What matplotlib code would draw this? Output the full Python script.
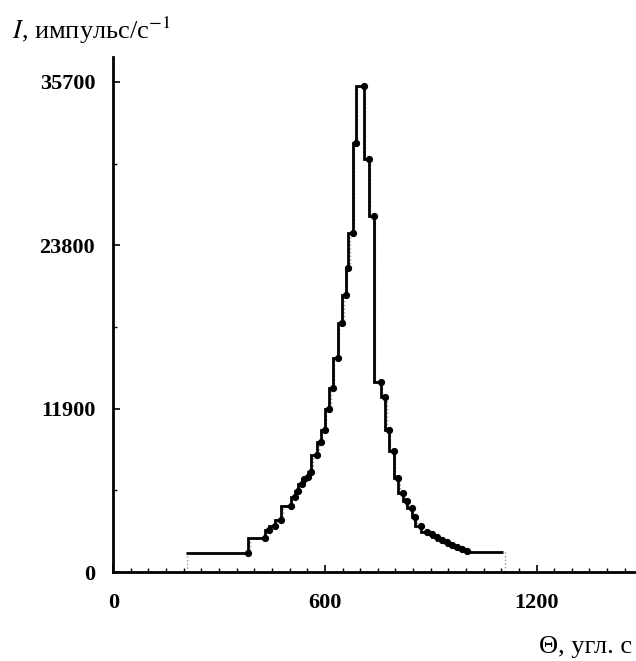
import matplotlib
matplotlib.use("Agg")
import matplotlib.pyplot as plt
import numpy as np

# step edges (angle, arcsec) and intensity levels
theta_edges = [205, 383, 429, 443, 460, 477, 503, 514, 523, 534, 542, 551,
               562, 577, 588, 599, 611, 622, 636, 648, 659, 667, 679, 687,
               710, 724, 738, 758, 770, 781, 795, 807, 821, 832, 846, 855,
               872, 889, 903, 917, 932, 946, 960, 974, 988, 1003, 1105]
intensity = [1400, 2480, 3060, 3350, 3790, 4800, 5460, 5900, 6400, 6770,
             6920, 7280, 8520, 9460, 10340, 11870, 13400, 15580, 18130,
             20170, 22130, 24680, 31230, 35400, 30070, 25920, 13830, 12740,
             10340, 8810, 6840, 5750, 5170, 4660, 4000, 3350, 2910, 2770,
             2550, 2330, 2180, 1970, 1820, 1670, 1530, 1460]

y_ticks = [0, 11900, 23800, 35700]
x_ticks = [0, 600, 1200]

plt.rcParams['mathtext.fontset'] = 'stix'
serif = ['Liberation Serif', 'DejaVu Serif']

fig = plt.figure(figsize=(6.36, 6.61), dpi=100)
ax = fig.add_axes([0.178, 0.1346, 0.822, 0.779])

edges = np.array(theta_edges, dtype=float)
vals = np.array(intensity, dtype=float)

# faint dotted trace beside the main line (print artefact)
ax.stairs(vals, edges + 5, baseline=0, color='0.6', linestyle=':',
          linewidth=1.0, zorder=1)
ax.stairs(vals, edges, baseline=None, color='black', linewidth=2.0, zorder=2)
ax.plot(edges[1:-1], vals[:-1], 'o', color='black', markersize=4.2, zorder=3)

ax.set_xlim(0, 1482)
ax.set_ylim(0, 37500)

for s in ['top', 'right']:
    ax.spines[s].set_visible(False)
for s in ['left', 'bottom']:
    ax.spines[s].set_linewidth(2.0)

ax.set_xticks(x_ticks)
ax.set_yticks(y_ticks)
ax.set_xticks(np.arange(0, 1482, 50), minor=True)
ax.set_yticks(np.arange(0, 37500, 5950), minor=True)
ax.tick_params(which='major', direction='in', length=5, width=1.2,
               labelsize=16, pad=13)
ax.tick_params(axis='x', which='major', pad=15)
ax.tick_params(which='minor', direction='in', length=3, width=1.0)
for lab in ax.get_xticklabels() + ax.get_yticklabels():
    lab.set_fontfamily(serif)
    lab.set_fontweight('bold')

fig.text(12 / 636, 1 - 30 / 661, r"$I$, импульс/с$^{-1}$", family=serif,
         fontsize=19, ha='left', va='center')
fig.text(632 / 636, 1 - 647 / 661, "Θ, угл. с", family=serif,
         fontsize=19, ha='right', va='center')

fig.savefig("out.png", dpi=100)
